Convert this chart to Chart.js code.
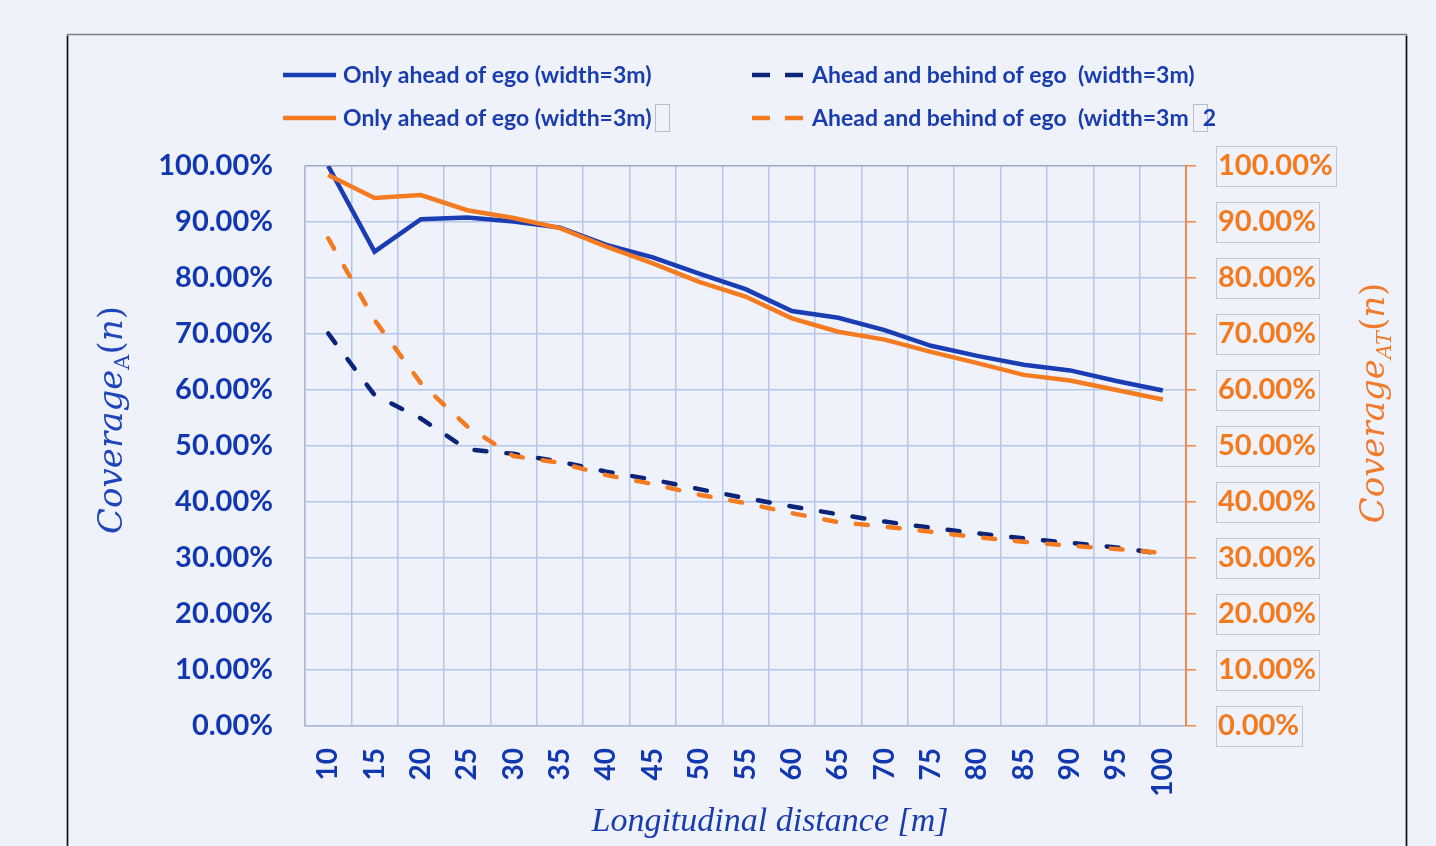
<!DOCTYPE html>
<html><head><meta charset="utf-8">
<script src="https://cdn.jsdelivr.net/npm/chart.js@4.4.0/dist/chart.umd.min.js"></script>
<style>html,body{margin:0;padding:0;background:#EFF2FB;overflow:hidden}#wrap{width:1436px;height:846px;position:relative}</style>
</head><body><div id="wrap"><canvas id="c" width="1436" height="846"></canvas></div>
<script>
const categories = ['10','15','20','25','30','35','40','45','50','55','60','65','70','75','80','85','90','95','100'];
const onlyAheadA    = [100.0, 84.7, 90.5, 90.8, 90.1, 89.0, 85.9, 83.7, 80.8, 78.0, 74.1, 72.9, 70.7, 67.9, 66.1, 64.5, 63.5, 61.6, 59.9];
const aheadBehindA  = [70.1, 59.1, 54.9, 49.4, 48.6, 47.2, 45.4, 44.0, 42.3, 40.7, 39.2, 37.8, 36.5, 35.4, 34.4, 33.5, 32.7, 31.9, 30.7];
const onlyAheadAT   = [98.4, 94.3, 94.8, 92.1, 90.7, 88.9, 85.6, 82.6, 79.3, 76.7, 72.8, 70.4, 69.0, 66.8, 64.8, 62.7, 61.7, 60.0, 58.3];
const aheadBehindAT = [87.1, 72.5, 61.2, 53.5, 48.2, 47.0, 44.8, 43.2, 41.3, 39.8, 38.0, 36.4, 35.6, 34.7, 33.7, 32.9, 32.2, 31.6, 30.9];
const seriesLabels = [
  'Only ahead of ego (width=3m)',
  'Ahead and behind of ego  (width=3m)',
  'Only ahead of ego (width=3m)\u25AF',
  'Ahead and behind of ego  (width=3m\u25AF2'
];
const xTitle = 'Longitudinal distance [m]';
const yTicksMin = 0, yTicksMax = 100, yTicksStep = 10;

const BLUE = '#1A3DB4', NAVY = '#0B2479', ORANGE = '#F47B20';
const TXT_BLUE = '#1238B0', TXT_ORANGE = '#F47A1E';
const TICK_FONT = {family: 'Lato', size: 29, weight: 'bold'};

const fmt = v => Number(v).toFixed(2) + '%';

const decor = {
  id: 'decor',
  beforeDraw(chart) {
    const ctx = chart.ctx;
    ctx.save();
    ctx.fillStyle = '#EFF2FB';
    ctx.fillRect(0, 0, chart.width, chart.height);
    ctx.strokeStyle = '#7d7f88'; ctx.lineWidth = 1.5;
    ctx.beginPath(); ctx.moveTo(67.5, 900); ctx.lineTo(67.5, 34.5); ctx.lineTo(1406.5, 34.5); ctx.lineTo(1406.5, 900); ctx.stroke();
    ctx.strokeStyle = '#111';
    ctx.beginPath(); ctx.moveTo(67.5, 900); ctx.lineTo(67.5, 36); ctx.moveTo(1406.5, 36); ctx.lineTo(1406.5, 900); ctx.stroke();
    ctx.restore();
  },
  afterDraw(chart) {
    const ctx = chart.ctx;
    ctx.save();
    // right tick label boxes
    const s = chart.scales.y2;
    ctx.font = 'bold 29px Lato';
    ctx.strokeStyle = '#c3c7d2'; ctx.lineWidth = 1;
    s.ticks.forEach((t, i) => {
      const y = s.getPixelForTick(i);
      const w = ctx.measureText(fmt(t.value)).width;
      ctx.strokeRect(Math.round(s.left + 30) + 0.5, Math.round(y - 20) + 0.5, Math.round(w + 5), 40);
    });
    // legend
    const items = [
      {x: 283, y: 75, color: BLUE, dash: false},
      {x: 752, y: 75, color: NAVY, dash: true},
      {x: 283, y: 118, color: ORANGE, dash: false},
      {x: 752, y: 118, color: ORANGE, dash: true}
    ];
    ctx.font = 'bold 23px Lato';
    ctx.textBaseline = 'middle';
    items.forEach((it, i) => {
      ctx.strokeStyle = it.color; ctx.lineWidth = 4.5; ctx.lineCap = 'butt';
      ctx.beginPath();
      if (it.dash) {
        ctx.moveTo(it.x, it.y); ctx.lineTo(it.x + 18, it.y);
        ctx.moveTo(it.x + 33, it.y); ctx.lineTo(it.x + 51, it.y);
      } else {
        ctx.moveTo(it.x, it.y); ctx.lineTo(it.x + 53, it.y);
      }
      ctx.stroke();
      let tx = it.x + 60;
      const parts = seriesLabels[i].split('\u25AF');
      parts.forEach((p, k) => {
        ctx.fillStyle = '#1A3DAE';
        ctx.fillText(p, tx, it.y + 1);
        tx += ctx.measureText(p).width;
        if (k < parts.length - 1) {
          ctx.strokeStyle = '#b9bdc8'; ctx.lineWidth = 1;
          ctx.strokeRect(Math.round(tx) + 4.5, it.y - 13.5, 14, 27);
          tx += 14;
        }
      });
    });
    // axis titles
    const drawParts = (parts, cx, cy, rot, color) => {
      ctx.save();
      ctx.translate(cx, cy); ctx.rotate(rot);
      ctx.fillStyle = color; ctx.textBaseline = 'alphabetic';
      let total = 0;
      parts.forEach(p => { ctx.font = p.f; total += ctx.measureText(p.t).width; });
      let x = -total / 2;
      parts.forEach(p => { ctx.font = p.f; ctx.fillText(p.t, x, p.dy || 0); x += ctx.measureText(p.t).width; });
      ctx.restore();
    };
    const I = 'italic 34px "DejaVu Serif"', N = '34px "DejaVu Serif"';
    drawParts([
      {t: 'Coverage', f: I}, {t: 'A', f: '21px "DejaVu Serif"', dy: 7},
      {t: '(', f: N}, {t: 'n', f: I}, {t: ')', f: N}
    ], 122, 420, -Math.PI / 2, '#1F45B8');
    drawParts([
      {t: 'Coverage', f: I}, {t: 'AT', f: 'italic 21px "DejaVu Serif"', dy: 7},
      {t: '(', f: N}, {t: 'n', f: I}, {t: ')', f: N}
    ], 1384, 403, -Math.PI / 2, '#F07B2C');
    drawParts([{t: xTitle, f: 'italic 34px "Liberation Serif"'}], 770, 831, 0, '#1A3DAE');
    ctx.restore();
  }
};

new Chart(document.getElementById('c'), {
  type: 'line',
  data: {
    labels: categories,
    datasets: [
      {label: seriesLabels[0], data: onlyAheadA, yAxisID: 'y', borderColor: BLUE, borderWidth: 4.5, pointRadius: 0, order: 4},
      {label: seriesLabels[1], data: aheadBehindA, yAxisID: 'y', borderColor: NAVY, borderWidth: 4.5, borderDash: [12, 20], borderCapStyle: 'round', pointRadius: 0, order: 3},
      {label: seriesLabels[2], data: onlyAheadAT, yAxisID: 'y2', borderColor: ORANGE, borderWidth: 4.5, pointRadius: 0, order: 1},
      {label: seriesLabels[3], data: aheadBehindAT, yAxisID: 'y2', borderColor: ORANGE, borderWidth: 4.5, borderDash: [12, 20], borderCapStyle: 'round', pointRadius: 0, order: 2}
    ]
  },
  options: {
    responsive: false, animation: false, devicePixelRatio: 1,
    layout: {padding: {top: 166, left: 0, right: 0, bottom: 0}},
    plugins: {legend: {display: false}, tooltip: {enabled: false}, title: {display: false}},
    scales: {
      x: {
        type: 'category', offset: true,
        grid: {offset: true, color: '#B5C6EC', lineWidth: 1.5, drawTicks: false},
        border: {color: '#A9B6D6', width: 1.5},
        ticks: {color: TXT_BLUE, font: {family: 'Lato', size: 28, weight: 'bold'}, minRotation: 90, maxRotation: 90, autoSkip: false, padding: 22},
        afterFit: s => { s.height = 846 - 726; }
      },
      y: {
        position: 'left', min: yTicksMin, max: yTicksMax,
        grid: {color: c => c.tick && c.tick.value === 100 ? '#9FA9C8' : '#B5C6EC', lineWidth: 1.5, drawTicks: false},
        border: {color: '#A9B6D6', width: 1.5},
        ticks: {stepSize: yTicksStep, color: TXT_BLUE, font: TICK_FONT, padding: 32, callback: v => fmt(v)},
        afterFit: s => { s.width = 305; }
      },
      y2: {
        position: 'right', min: yTicksMin, max: yTicksMax,
        grid: {drawOnChartArea: false, color: '#EE8A45', lineWidth: 1.5, tickLength: 10},
        border: {color: '#EE8A45', width: 2},
        ticks: {stepSize: yTicksStep, color: TXT_ORANGE, font: TICK_FONT, padding: 22, callback: v => fmt(v)},
        afterFit: s => { s.width = 1436 - 1186; }
      }
    }
  },
  plugins: [decor]
});
</script>
</body></html>
